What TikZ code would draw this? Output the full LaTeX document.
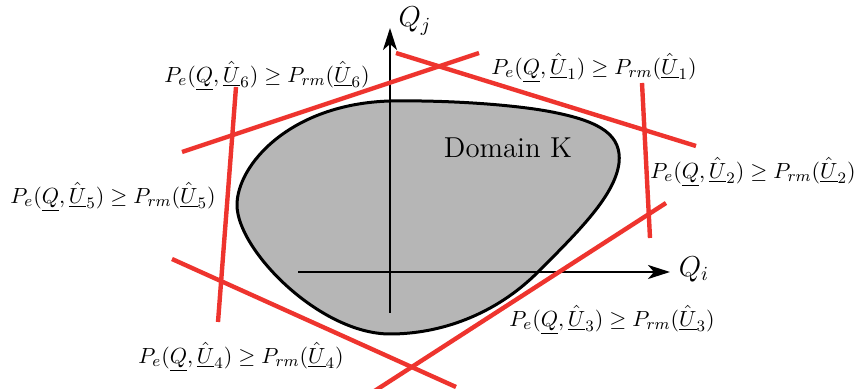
\documentclass[tikz,border=0pt]{standalone}
\usetikzlibrary{arrows.meta}
\definecolor{cred}{RGB}{238,52,46}
\definecolor{cgray}{RGB}{182,182,182}
\begin{document}
\begin{tikzpicture}[x=0.5pt,y=-0.5pt,
  cut/.style={draw=cred,line width=2.2pt},
  axis/.style={draw=black,line width=1.2pt,-{Stealth[length=11pt,width=7pt,inset=3pt]}},
  lbl/.style={inner sep=0pt,font=\fontsize{10.9}{13}\selectfont}]
\useasboundingbox (0,0) rectangle (856,389);
% domain
\filldraw[fill=cgray,draw=black,line width=1.5pt]
  (237,205) .. controls (237,165) and (290,104) .. (390,101)
  .. controls (450,100) and (520,105) .. (557,113)
  .. controls (600,122) and (622,135) .. (619,163)
  .. controls (615,195) and (580,230) .. (538,272)
  .. controls (495,315) and (440,334) .. (390,334)
  .. controls (320,334) and (237,250) .. (237,205) -- cycle;
\node[font=\fontsize{14.4}{17}\selectfont,inner sep=0pt] (dk) at (508,148) {Domain K};
% axes
\coordinate (xs) at (298,272);
\coordinate (xe) at (670,272);
\coordinate (ys) at (390,313);
\coordinate (ye) at (390,28);
\draw[axis] (xs) -- (xe);
\draw[axis] (ys) -- (ye);
\node[font=\fontsize{14.4}{17}\selectfont,inner sep=0pt] (qi) at (694,269) {$Q_i$};
\node[font=\fontsize{14.4}{17}\selectfont,inner sep=0pt] (qj) at (415,21) {$Q_j$};
% cutting lines
\coordinate (a1) at (396,53);  \coordinate (b1) at (696,146);
\coordinate (a2) at (642,83);  \coordinate (b2) at (650,238);
\coordinate (a3) at (666,203); \coordinate (b3) at (373,392);
\coordinate (a4) at (172,259); \coordinate (b4) at (456,387);
\coordinate (a5) at (236,87);  \coordinate (b5) at (218,322);
\coordinate (a6) at (182,152); \coordinate (b6) at (479,53);
\draw[cut] (a1) -- (b1);
\draw[cut] (a2) -- (b2);
\draw[cut] (a3) -- (b3);
\draw[cut] (a4) -- (b4);
\draw[cut] (a5) -- (b5);
\draw[cut] (a6) -- (b6);
% labels
\node[lbl] (l1) at (594,68) {$P_e(\underline{Q},\hat{\underline{U}}_1)\geq P_{rm}(\hat{\underline{U}}_1)$};
\node[lbl] (l2) at (753,172) {$P_e(\underline{Q},\hat{\underline{U}}_2)\geq P_{rm}(\hat{\underline{U}}_2)$};
\node[lbl] (l3) at (612,320) {$P_e(\underline{Q},\hat{\underline{U}}_3)\geq P_{rm}(\hat{\underline{U}}_3)$};
\node[lbl] (l4) at (241,357) {$P_e(\underline{Q},\hat{\underline{U}}_4)\geq P_{rm}(\hat{\underline{U}}_4)$};
\node[lbl] (l5) at (113,197) {$P_e(\underline{Q},\hat{\underline{U}}_5)\geq P_{rm}(\hat{\underline{U}}_5)$};
\node[lbl] (l6) at (267,76) {$P_e(\underline{Q},\hat{\underline{U}}_6)\geq P_{rm}(\hat{\underline{U}}_6)$};
\end{tikzpicture}
\end{document}
